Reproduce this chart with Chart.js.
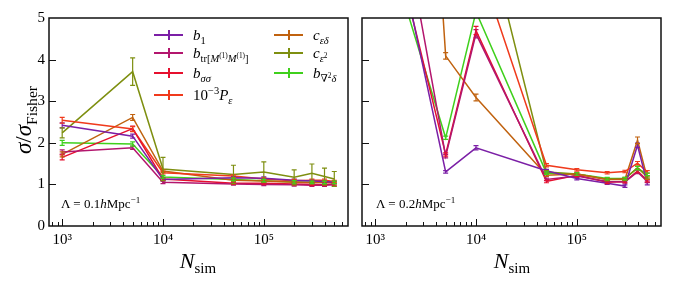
<!DOCTYPE html>
<html>
<head>
<meta charset="utf-8">
<script src="https://cdn.jsdelivr.net/npm/chart.js@4"></script>
<style>
  body { margin: 0; background: #fff; width: 674px; height: 281px; position: relative; overflow: hidden;
         font-family: 'Liberation Serif', 'DejaVu Serif', serif; color: #000; }
  canvas { position: absolute; top: 0; }
  #lowChart { left: 0; }
  #highChart { left: 352px; }
  .txt { position: absolute; white-space: nowrap; line-height: 18px; }
  .leg { font-size: 15px; }
  .mk { position: absolute; width: 29px; height: 2px; }
  .mk span { position: absolute; left: 13.5px; top: -4px; width: 2px; height: 10px; }
  sub, sup { font-size: 70%; line-height: 0; }
  .ylab { font-size: 23px; transform: rotate(-90deg); transform-origin: center; }
  .xlab { font-size: 22px; }
  .note { font-size: 13px; }
</style>
</head>
<body>
<canvas id="lowChart" width="360" height="281"></canvas>
<canvas id="highChart" width="322" height="281"></canvas>

<div class="txt ylab" style="left:-31px;top:111px;width:110px;text-align:center;"><i>σ</i>/<i>σ</i><sub style="font-size:68%">Fisher</sub></div>
<div class="txt xlab" style="left:148px;top:252px;width:100px;text-align:center;"><i>N</i><sub style="font-size:68%">sim</sub></div>
<div class="txt xlab" style="left:462px;top:252px;width:100px;text-align:center;"><i>N</i><sub style="font-size:68%">sim</sub></div>
<div class="txt note" style="left:61px;top:195px;">Λ = 0.1<i>h</i>Mpc<sup>−1</sup></div>
<div class="txt note" style="left:376px;top:195px;">Λ = 0.2<i>h</i>Mpc<sup>−1</sup></div>
<div id="legend"></div>

<script>
// N_sim values shared by every series
const nSim = [1e3, 5e3, 1e4, 5e4, 1e5, 2e5, 3e5, 4e5, 5e5];
const xTickLabels = { 1000: '10³', 10000: '10⁴', 100000: '10⁵' };
const yTicks = [0, 1, 2, 3, 4, 5];

// Lambda = 0.1 h/Mpc
const lowB1 = [2.42, 2.16, 1.12, 1.16, 1.15, 1.10, 1.08, 1.07, 1.05];
const lowBtr = [1.78, 1.88, 1.05, 1.01, 1.00, 0.99, 0.98, 0.98, 0.99];
const lowBss = [1.65, 2.34, 1.13, 1.03, 1.03, 1.01, 1.00, 1.00, 1.01];
const lowPe = [2.54, 2.33, 1.28, 1.20, 1.13, 1.09, 1.10, 1.10, 1.07];
const lowCed = [1.72, 2.61, 1.32, 1.10, 1.08, 1.05, 1.04, 1.05, 1.04];
const lowCe2 = [2.24, 3.71, 1.37, 1.24, 1.30, 1.17, 1.27, 1.19, 1.13];
const lowBnd = [2.00, 1.97, 1.18, 1.12, 1.09, 1.06, 1.05, 1.05, 1.05];

const lowB1Err = [0.06, 0.05, 0.03, 0.03, 0.03, 0.03, 0.03, 0.03, 0.03];
const lowBtrErr = [0.05, 0.04, 0.03, 0.03, 0.03, 0.03, 0.03, 0.03, 0.03];
const lowBssErr = [0.06, 0.06, 0.03, 0.03, 0.03, 0.03, 0.03, 0.03, 0.03];
const lowPeErr = [0.07, 0.06, 0.03, 0.03, 0.03, 0.03, 0.03, 0.03, 0.03];
const lowCedErr = [0.06, 0.07, 0.03, 0.03, 0.03, 0.03, 0.03, 0.03, 0.03];
const lowCe2Err = [0.12, 0.33, 0.28, 0.22, 0.24, 0.18, 0.22, 0.20, 0.18];
const lowBndErr = [0.06, 0.05, 0.03, 0.03, 0.03, 0.03, 0.03, 0.03, 0.03];

// Lambda = 0.2 h/Mpc
const highB1 = [9.2, 1.30, 1.88, 1.33, 1.14, 1.03, 0.96, 1.94, 1.02];
const highBtr = [11.0, 1.68, 4.62, 1.12, 1.20, 1.07, 1.06, 1.30, 1.07];
const highBss = [8.7, 1.72, 4.70, 1.07, 1.22, 1.05, 1.07, 1.32, 1.09];
const highPe = [14, 9, 6.5, 1.46, 1.35, 1.28, 1.31, 1.51, 1.30];
const highCed = [30, 4.09, 3.09, 1.22, 1.25, 1.12, 1.12, 2.06, 1.15];
const highCe2 = [20, 12, 8.1, 1.30, 1.25, 1.12, 1.14, 1.40, 1.18];
const highBnd = [7.7, 2.12, 5.15, 1.27, 1.25, 1.14, 1.14, 1.39, 1.24];

const highB1Err = [0.2, 0.03, 0.05, 0.03, 0.03, 0.03, 0.03, 0.05, 0.03];
const highBtrErr = [0.2, 0.04, 0.10, 0.03, 0.03, 0.03, 0.03, 0.04, 0.03];
const highBssErr = [0.2, 0.04, 0.10, 0.03, 0.03, 0.03, 0.03, 0.04, 0.03];
const highPeErr = [0.2, 0.1, 0.10, 0.04, 0.03, 0.03, 0.03, 0.04, 0.03];
const highCedErr = [0.5, 0.08, 0.08, 0.03, 0.03, 0.03, 0.03, 0.08, 0.03];
const highCe2Err = [0.3, 0.2, 0.10, 0.03, 0.03, 0.03, 0.03, 0.04, 0.03];
const highBndErr = [0.2, 0.04, 0.10, 0.03, 0.03, 0.03, 0.03, 0.04, 0.03];

const colors = ['#7b1fa6', '#b3166e', '#e6102e', '#f03a1c', '#c0620f', '#7e8f10', '#3fd01c'];

const legendLabels = [
  '<i>b</i><sub>1</sub>',
  '<i>b</i><sub>tr[<i>M</i><sup>(1)</sup><i>M</i><sup>(1)</sup>]</sub>',
  '<i>b</i><sub><i>σσ</i></sub>',
  '10<sup>−3</sup><i>P</i><sub><i>ε</i></sub>',
  '<i>c</i><sub><i>εδ</i></sub>',
  '<i>c</i><sub><i>ε</i><sup>2</sup></sub>',
  '<i>b</i><sub>∇<sup>2</sup><i>δ</i></sub>'
];
// legend slot positions: [marker left, text left, row center]
const legendSlots = [[154, 193, 35], [154, 193, 53], [154, 193, 73], [154, 193, 95],
                     [274, 313, 35], [274, 313, 53], [274, 313, 73]];

const legendBox = document.getElementById('legend');
legendLabels.forEach((lab, i) => {
  const [mx, tx, cy] = legendSlots[i];
  const mk = document.createElement('div');
  mk.className = 'mk';
  mk.style.cssText = `left:${mx}px;top:${cy - 1}px;background:${colors[i]}`;
  mk.innerHTML = `<span style="background:${colors[i]}"></span>`;
  legendBox.appendChild(mk);
  const t = document.createElement('div');
  t.className = 'txt leg';
  t.style.cssText = `left:${tx}px;top:${cy - 9}px`;
  t.innerHTML = lab;
  legendBox.appendChild(t);
});

const errorBarPlugin = {
  id: 'errorBars',
  afterDatasetsDraw(chart) {
    const { ctx, chartArea: a, scales: { x, y } } = chart;
    ctx.save();
    ctx.beginPath();
    ctx.rect(a.left, a.top, a.right - a.left, a.bottom - a.top);
    ctx.clip();
    chart.data.datasets.forEach(ds => {
      ctx.strokeStyle = ds.borderColor;
      ctx.lineWidth = 1.2;
      ds.data.forEach((p, j) => {
        const e = ds.errors[j];
        const px = x.getPixelForValue(p.x);
        const top = y.getPixelForValue(p.y + e);
        const bot = y.getPixelForValue(p.y - e);
        ctx.beginPath();
        ctx.moveTo(px, top); ctx.lineTo(px, bot);
        ctx.moveTo(px - 2.5, top); ctx.lineTo(px + 2.5, top);
        ctx.moveTo(px - 2.5, bot); ctx.lineTo(px + 2.5, bot);
        ctx.stroke();
      });
    });
    ctx.restore();
  }
};

const framePlugin = {
  id: 'frame',
  afterDraw(chart) {
    const { ctx, chartArea: a, scales: { x, y } } = chart;
    ctx.save();
    ctx.strokeStyle = '#111';
    ctx.lineWidth = 1;
    ctx.beginPath();
    x.ticks.forEach(t => {
      const px = Math.round(x.getPixelForValue(t.value)) + 0.5;
      const major = Number.isInteger(Math.log10(t.value));
      ctx.moveTo(px, a.bottom);
      ctx.lineTo(px, a.bottom - (major ? 7 : 4));
    });
    y.ticks.forEach(t => {
      if (t.value <= 0 || t.value >= 5) return;
      const py = Math.round(y.getPixelForValue(t.value)) + 0.5;
      ctx.moveTo(a.left, py);
      ctx.lineTo(a.left + 7, py);
    });
    ctx.stroke();
    ctx.lineWidth = 1.5;
    ctx.strokeRect(a.left, a.top, a.right - a.left, a.bottom - a.top);
    ctx.restore();
  }
};

function buildDatasets(values, errors) {
  return values.map((vals, i) => ({
    data: vals.map((v, j) => ({ x: nSim[j], y: v })),
    errors: errors[i],
    borderColor: colors[i],
    backgroundColor: colors[i],
    borderWidth: 1.5,
    pointRadius: 0,
    tension: 0
  }));
}

function makeChart(id, values, errors, showYLabels, yWidth, rightPad) {
  return new Chart(document.getElementById(id), {
    type: 'line',
    data: { datasets: buildDatasets(values, errors) },
    plugins: [errorBarPlugin, framePlugin],
    options: {
      responsive: false,
      animation: false,
      devicePixelRatio: 1,
      layout: { padding: { top: 18, right: rightPad, left: 0, bottom: 0 } },
      plugins: { legend: { display: false }, tooltip: { enabled: false } },
      scales: {
        x: {
          type: 'logarithmic',
          min: 740,
          max: 684000,
          grid: { display: false, drawTicks: false },
          border: { display: false },
          afterBuildTicks: s => {
            const ticks = [];
            for (let d = 2; d <= 5; d++) {
              for (let m = 1; m <= 9; m++) {
                const v = m * Math.pow(10, d);
                if (v >= s.min && v <= s.max) ticks.push({ value: v });
              }
            }
            s.ticks = ticks;
          },
          afterFit: s => { s.height = 55; },
          ticks: {
            autoSkip: false,
            maxRotation: 0,
            padding: 5,
            color: '#000',
            font: { family: "'Liberation Serif', 'DejaVu Serif', serif", size: 15 },
            callback: v => xTickLabels[v] || ''
          }
        },
        y: {
          min: 0,
          max: 5,
          grid: { display: false, drawTicks: false },
          border: { display: false },
          afterBuildTicks: s => { s.ticks = yTicks.map(v => ({ value: v })); },
          afterFit: s => { s.width = yWidth; },
          ticks: {
            display: showYLabels,
            padding: 4,
            color: '#000',
            font: { family: "'Liberation Serif', 'DejaVu Serif', serif", size: 15 }
          }
        }
      }
    }
  });
}

makeChart('lowChart',
  [lowB1, lowBtr, lowBss, lowPe, lowCed, lowCe2, lowBnd],
  [lowB1Err, lowBtrErr, lowBssErr, lowPeErr, lowCedErr, lowCe2Err, lowBndErr],
  true, 49, 12);

makeChart('highChart',
  [highB1, highBtr, highBss, highPe, highCed, highCe2, highBnd],
  [highB1Err, highBtrErr, highBssErr, highPeErr, highCedErr, highCe2Err, highBndErr],
  false, 10, 13);
</script>
</body>
</html>
